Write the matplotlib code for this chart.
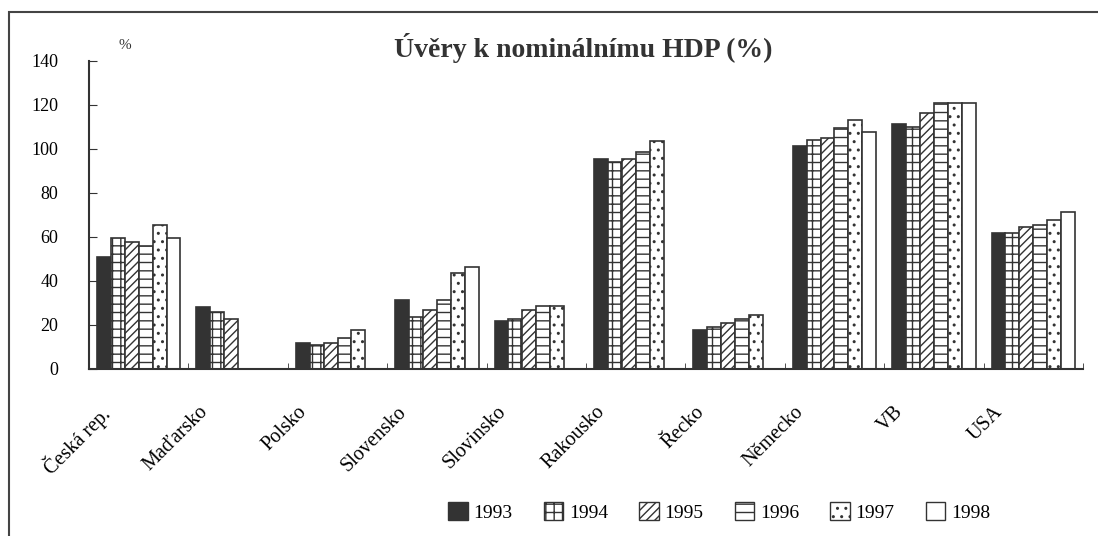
import numpy as np
import matplotlib
matplotlib.use("Agg")
import matplotlib.pyplot as plt
from matplotlib.patches import Rectangle, Patch
from matplotlib.transforms import ScaledTranslation

# Data (NaN = no bar)
countries = ["Česká rep.", "Maďarsko", "Polsko", "Slovensko", "Slovinsko",
             "Rakousko", "Řecko", "Německo", "VB", "USA"]
years = ["1993", "1994", "1995", "1996", "1997", "1998"]
nan = np.nan
v1993 = [51, 28, 12, 31.5, 22, 95.5, 17.5, 101.5, 111.5, 62]
v1994 = [59.5, 26, 11, 23.5, 22.5, 94, 19, 104, 110, 62]
v1995 = [57.5, 22.5, 12, 27, 27, 95.5, 21, 105, 116.5, 64.5]
v1996 = [56, nan, 14, 31.5, 28.5, 98.5, 22.5, 109.5, 121, 65.5]
v1997 = [65.5, nan, 17.5, 43.5, 28.5, 103.5, 24.5, 113, 121, 67.5]
v1998 = [59.5, nan, nan, 46.5, nan, nan, nan, 107.5, 121, 71.5]
series = [v1993, v1994, v1995, v1996, v1997, v1998]
hatches = [None, "++", "////", "--", "..", None]
faces = ["#333333", "white", "white", "white", "white", "white"]

plt.rcParams["font.family"] = ["Liberation Serif", "DejaVu Serif"]
plt.rcParams["hatch.linewidth"] = 1.0
plt.rcParams["hatch.color"] = "#333333"

fig = plt.figure(figsize=(10.98, 5.36), dpi=100)
ax = fig.add_axes([0.0811, 0.3116, 0.9052, 0.5746])

x = np.arange(len(countries))
width = 0.14
for i, (vals, h, fc) in enumerate(zip(series, hatches, faces)):
    ax.bar(x + (i - 2.5) * width, vals, width, color=fc, hatch=h,
           edgecolor="#333333", linewidth=1.2, label=years[i])

ax.set_xlim(-0.5, len(countries) - 0.5)
ax.set_ylim(0, 140)
ax.set_yticks(np.arange(0, 141, 20))
ax.tick_params(axis="y", direction="in", length=6, pad=22, labelsize=13, color="#333333")

# category labels, rotated, sitting left of the group centre
ax.set_xticks(x)
ax.set_xticklabels(countries, rotation=45, ha="right", rotation_mode="anchor", fontsize=14.5)
ax.tick_params(axis="x", length=0, pad=24)
offset = ScaledTranslation(-40 / 100, 0, fig.dpi_scale_trans)
for lbl in ax.get_xticklabels():
    lbl.set_transform(lbl.get_transform() + offset)
ax.set_xticks(np.arange(-0.5, len(countries), 1), minor=True)
ax.tick_params(axis="x", which="minor", direction="in", length=4, color="#333333")

for s in ["top", "right"]:
    ax.spines[s].set_visible(False)
for s in ["left", "bottom"]:
    ax.spines[s].set_color("#333333")
    ax.spines[s].set_linewidth(1.5)

fig.text(0.531, 0.91, "Úvěry k nominálnímu HDP (%)", ha="center", va="center",
         fontsize=20, fontweight="bold", color="#333333")
fig.text(0.114, 0.916, "%", ha="center", va="center", fontsize=11, color="#333333")

handles = [Patch(facecolor=fc, hatch=h, edgecolor="#333333", label=y)
           for fc, h, y in zip(faces, hatches, years)]
fig.legend(handles=handles, loc="center", bbox_to_anchor=(0.655, 0.045), ncol=6,
           frameon=False, fontsize=14, handlelength=1.0, handleheight=1.0,
           handletextpad=0.3, columnspacing=1.6)

# outer frame
fig.patches.append(Rectangle((9 / 1098, -0.05), 1.2, 1 - 12 / 536 + 0.05,
                             transform=fig.transFigure, fill=False,
                             edgecolor="#444444", linewidth=1.5))

fig.savefig("out.png", dpi=100)
